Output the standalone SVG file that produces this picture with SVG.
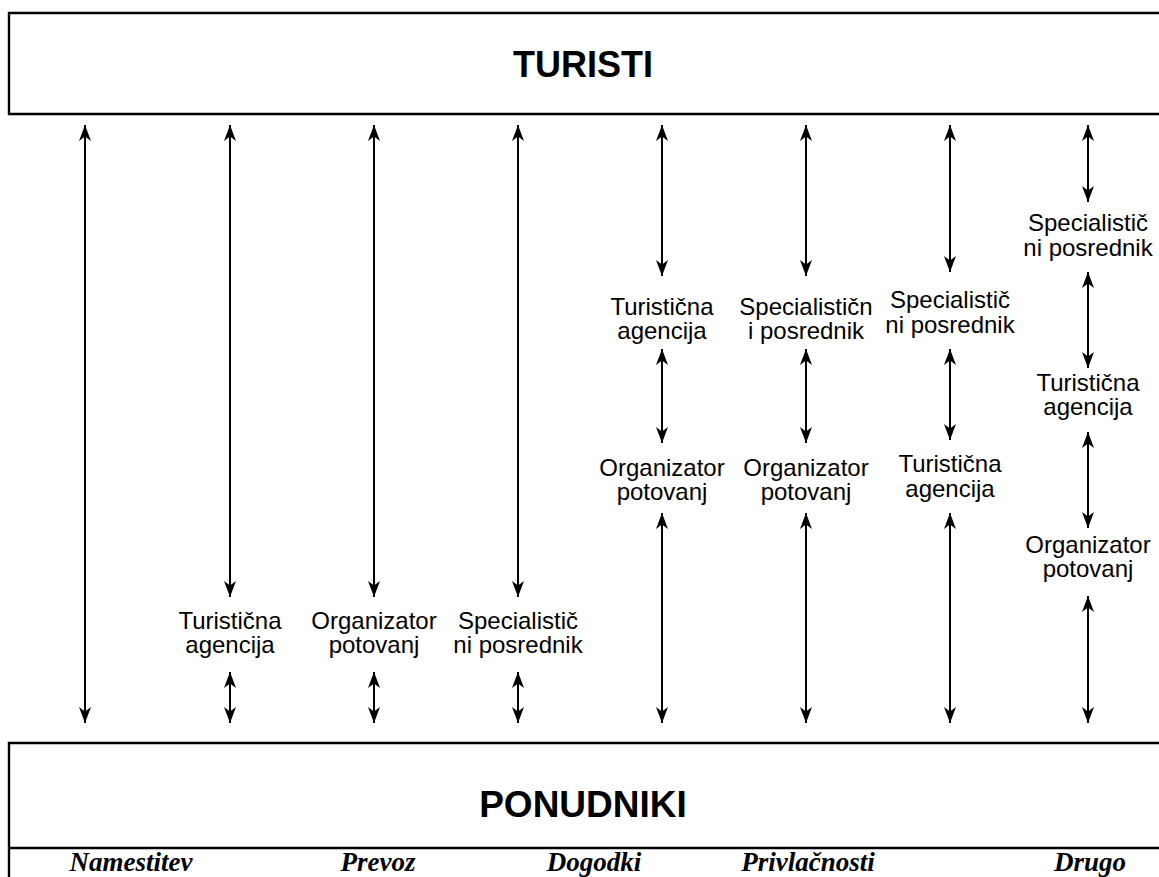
<svg xmlns="http://www.w3.org/2000/svg" width="1159" height="877" viewBox="0 0 1159 877">
  <style>
    .frame { stroke: #000; stroke-width: 2.4; fill: none; }
    .link { stroke: #000; stroke-width: 2; fill: none; marker-start: url(#head); marker-end: url(#head); }
    .title { font-family: "Liberation Sans", Arial, sans-serif; font-weight: bold; font-size: 36px; fill: #000; text-anchor: middle; }
    .lbl { font-family: "Liberation Sans", Arial, sans-serif; font-size: 24px; fill: #000; text-anchor: middle; }
    .cat { font-family: "Liberation Serif", "Times New Roman", serif; font-weight: bold; font-style: italic; font-size: 27px; fill: #000; text-anchor: middle; }
  </style>
  <defs>
    <marker id="head" viewBox="0 -7 16 14" refX="16" refY="0" markerWidth="16" markerHeight="14" markerUnits="userSpaceOnUse" orient="auto-start-reverse">
      <path d="M16,0 L0,-6 L4.5,0 L0,6 Z" fill="#000"/>
    </marker>
  </defs>
  <rect width="1159" height="877" fill="#fff"/>

  <!-- tourists (top block) -->
  <g id="turisti">
    <path class="frame" d="M1159,13 H9 V114 H1159"/>
    <text class="title" x="583" y="77">TURISTI</text>
  </g>

  <!-- suppliers (bottom block) -->
  <g id="ponudniki">
    <path class="frame" d="M1159,743 H9 V877 M8,848 H1159"/>
    <text class="title" x="583" y="817" style="font-size:37px">PONUDNIKI</text>
    <text class="cat" x="131" y="871">Namestitev</text>
    <text class="cat" x="378" y="871">Prevoz</text>
    <text class="cat" x="594" y="871">Dogodki</text>
    <text class="cat" x="808" y="871">Privlačnosti</text>
    <text class="cat" x="1090" y="871">Drugo</text>
  </g>

  <!-- intermediaries -->
  <g id="c2-agencija"><text class="lbl" x="230" y="629">Turistična</text><text class="lbl" x="230" y="653">agencija</text></g>
  <g id="c3-organizator"><text class="lbl" x="374" y="629">Organizator</text><text class="lbl" x="374" y="653">potovanj</text></g>
  <g id="c4-specialist"><text class="lbl" x="518" y="629">Specialistič</text><text class="lbl" x="518" y="653">ni posrednik</text></g>

  <g id="c5-agencija"><text class="lbl" x="662" y="315">Turistična</text><text class="lbl" x="662" y="339">agencija</text></g>
  <g id="c5-organizator"><text class="lbl" x="662" y="476">Organizator</text><text class="lbl" x="662" y="500">potovanj</text></g>

  <g id="c6-specialist"><text class="lbl" x="806" y="315">Specialističn</text><text class="lbl" x="806" y="339">i posrednik</text></g>
  <g id="c6-organizator"><text class="lbl" x="806" y="476">Organizator</text><text class="lbl" x="806" y="500">potovanj</text></g>

  <g id="c7-specialist"><text class="lbl" x="950" y="308">Specialistič</text><text class="lbl" x="950" y="333">ni posrednik</text></g>
  <g id="c7-agencija"><text class="lbl" x="950" y="472">Turistična</text><text class="lbl" x="950" y="497">agencija</text></g>

  <g id="c8-specialist"><text class="lbl" x="1088" y="231">Specialistič</text><text class="lbl" x="1088" y="256">ni posrednik</text></g>
  <g id="c8-agencija"><text class="lbl" x="1088" y="391">Turistična</text><text class="lbl" x="1088" y="415">agencija</text></g>
  <g id="c8-organizator"><text class="lbl" x="1088" y="553">Organizator</text><text class="lbl" x="1088" y="577">potovanj</text></g>

  <!-- two-way flows -->
  <g id="connectors">
    <line class="link" x1="85" y1="125" x2="85" y2="723"/>

    <line class="link" x1="230" y1="125" x2="230" y2="597"/>
    <line class="link" x1="230" y1="672" x2="230" y2="723"/>
    <line class="link" x1="374" y1="125" x2="374" y2="597"/>
    <line class="link" x1="374" y1="672" x2="374" y2="723"/>
    <line class="link" x1="518" y1="125" x2="518" y2="597"/>
    <line class="link" x1="518" y1="672" x2="518" y2="723"/>

    <line class="link" x1="662" y1="125" x2="662" y2="276"/>
    <line class="link" x1="662" y1="349" x2="662" y2="443"/>
    <line class="link" x1="662" y1="513" x2="662" y2="723"/>

    <line class="link" x1="806" y1="125" x2="806" y2="276"/>
    <line class="link" x1="806" y1="349" x2="806" y2="443"/>
    <line class="link" x1="806" y1="513" x2="806" y2="723"/>

    <line class="link" x1="950" y1="125" x2="950" y2="272"/>
    <line class="link" x1="950" y1="349" x2="950" y2="440"/>
    <line class="link" x1="950" y1="513" x2="950" y2="723"/>

    <line class="link" x1="1088" y1="125" x2="1088" y2="202"/>
    <line class="link" x1="1088" y1="272" x2="1088" y2="368"/>
    <line class="link" x1="1088" y1="432" x2="1088" y2="528"/>
    <line class="link" x1="1088" y1="596" x2="1088" y2="723"/>
  </g>
</svg>
